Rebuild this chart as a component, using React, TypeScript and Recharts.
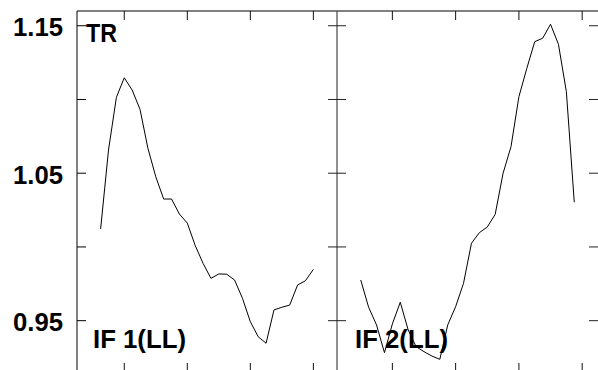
import React from 'react'
import { LineChart, Line, XAxis, YAxis } from 'recharts'

// values, one point per step
const leftValues = [
  1.0122, 1.0657, 1.1015, 1.1147, 1.1064, 1.0933, 1.0669, 1.0476, 1.0325, 1.0325,
  1.0223, 1.0162, 1.001, 0.9889, 0.9787, 0.9817, 0.9815, 0.9776, 0.9652, 0.9493,
  0.9391, 0.9347, 0.9573, 0.9591, 0.9606, 0.9742, 0.9771, 0.9848,
]
const rightValues = [
  0.9776, 0.9591, 0.9471, 0.9283, 0.9478, 0.9625, 0.9437, 0.9324, 0.929, 0.926,
  0.9238, 0.9471, 0.9595, 0.9754, 1.0025, 1.0097, 1.0135, 1.0221, 1.05, 1.068,
  1.1019, 1.1211, 1.1392, 1.1415, 1.151, 1.1374, 1.1053, 1.0303,
]
const yTicks = [0.95, 1.0, 1.05, 1.1, 1.15]
const yTickLabels: Record<string, string> = { '0.95': '0.95', '1.05': '1.05', '1.15': '1.15' }
const leftXTicks = [3, 11, 19, 27]
const rightXTicks = [4, 12, 20, 28]
const xDomain: [number, number] = [-3, 30]
const yDomain: [number, number] = [0.9152, 1.16]
const cornerLabel = 'TR'
const panelLabels = ['IF 1(LL)', 'IF 2(LL)']

const leftData = leftValues.map((v, i) => ({ i, v }))
const rightData = rightValues.map((v, i) => ({ i, v }))

const FONT = '"Liberation Sans", Arial, Helvetica, sans-serif'
const TOP = 11
const BOTTOM = 372
const LEN = 9

function LeftYTick(props: any) {
  const { y, payload } = props
  const label = yTickLabels[String(payload.value)]
  return (
    <g>
      <line x1={77} x2={77 + LEN} y1={y} y2={y} stroke="#000" />
      {label && (
        <text
          x={63}
          y={y + 10.5}
          textAnchor="end"
          fontFamily={FONT}
          fontWeight="bold"
          fontSize={25}
          textLength={50}
          lengthAdjust="spacingAndGlyphs"
          fill="#000"
        >
          {label}
        </text>
      )}
    </g>
  )
}

function RightYTick(props: any) {
  const { y } = props
  return (
    <g>
      <line x1={0} x2={2 * LEN} y1={y} y2={y} stroke="#222" />
      <line x1={261} x2={270} y1={y} y2={y} stroke="#222" />
    </g>
  )
}

function XTick(props: any) {
  const { x } = props
  return (
    <g>
      <line x1={x} x2={x} y1={TOP} y2={TOP + LEN} stroke="#111" />
      <line x1={x} x2={x} y1={BOTTOM - LEN} y2={BOTTOM} stroke="#111" />
    </g>
  )
}

export default function App() {
  return (
    <div style={{ position: 'absolute', left: 0, top: 0, width: 598, height: 370, overflow: 'hidden', background: '#fff' }}>
      <svg width={598} height={370} style={{ position: 'absolute', left: 0, top: 0 }}>
        <g fontFamily={FONT} fontWeight="bold" fontSize={26} fill="#000">
          <text x={86} y={42} textLength={31} lengthAdjust="spacingAndGlyphs">{cornerLabel}</text>
          <text x={93} y={348} textLength={93} lengthAdjust="spacingAndGlyphs">{panelLabels[0]}</text>
          <text x={355} y={348} textLength={93} lengthAdjust="spacingAndGlyphs">{panelLabels[1]}</text>
        </g>
      </svg>

      <div style={{ position: 'absolute', left: 0, top: 0 }}>
        <LineChart width={337} height={BOTTOM} data={leftData} margin={{ top: 0, right: 0, bottom: 0, left: 0 }}>
          <XAxis
            dataKey="i"
            type="number"
            orientation="top"
            height={TOP}
            domain={xDomain}
            ticks={leftXTicks}
            allowDataOverflow
            tickLine={false}
            tick={<XTick />}
            axisLine={{ stroke: '#808080', strokeWidth: 2 }}
          />
          <YAxis
            type="number"
            width={77}
            domain={yDomain}
            ticks={yTicks}
            allowDataOverflow
            tickLine={false}
            tick={<LeftYTick />}
            axisLine={{ stroke: '#000', strokeWidth: 1 }}
          />
          <Line dataKey="v" stroke="#000" strokeWidth={1} dot={false} isAnimationActive={false} />
        </LineChart>
      </div>

      <div style={{ position: 'absolute', left: 328, top: 0 }}>
        <LineChart width={270} height={BOTTOM} data={rightData} margin={{ top: 0, right: 0, bottom: 0, left: 0 }}>
          <XAxis
            dataKey="i"
            type="number"
            orientation="top"
            height={TOP}
            domain={xDomain}
            ticks={rightXTicks}
            allowDataOverflow
            tickLine={false}
            tick={<XTick />}
            axisLine={{ stroke: '#808080', strokeWidth: 2 }}
          />
          <YAxis
            type="number"
            width={9}
            domain={yDomain}
            ticks={yTicks}
            allowDataOverflow
            tickLine={false}
            tick={<RightYTick />}
            axisLine={{ stroke: '#555', strokeWidth: 1.3 }}
          />
          <Line dataKey="v" stroke="#000" strokeWidth={1} dot={false} isAnimationActive={false} />
        </LineChart>
      </div>
    </div>
  )
}
